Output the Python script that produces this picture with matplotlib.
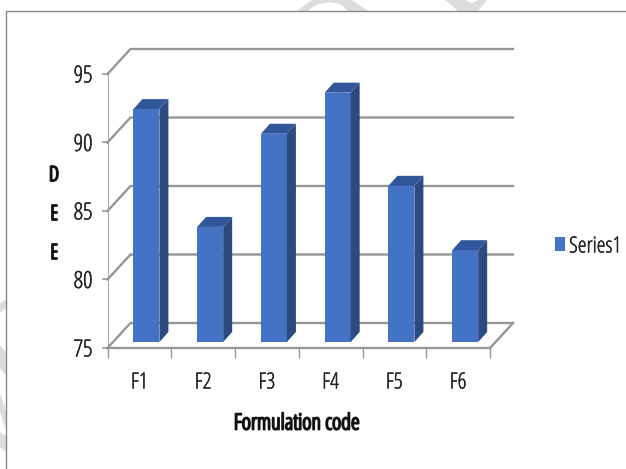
import matplotlib
matplotlib.use("Agg")
import matplotlib.pyplot as plt
import matplotlib.patheffects as pe
from matplotlib.patches import Polygon, Rectangle

categories = ["F1", "F2", "F3", "F4", "F5", "F6"]
values = [92.0, 83.4, 90.2, 93.2, 86.4, 81.7]
yticks = [75, 80, 85, 90, 95]

W, H = 626, 469
plt.rcParams['font.family'] = ['Open Sans', 'DejaVu Sans']

fig = plt.figure(figsize=(W/100, H/100), dpi=100)

# axes lined up so that one x unit = one category, y = the value scale
left, right, top, bottom = 107.5, 512, 48, 348
ax = fig.add_axes([left/W, 1-bottom/H, (right-left)/W, (bottom-top)/H])
px_x = 63.75
px_y = 13.7
ax.set_xlim(0, (right-left)/px_x)
ax.set_ylim(75, 75+(bottom-top)/px_y)
ax.axis("off")

dx = 23/px_x
dy = 25/px_y
n = len(categories)
grid_c = "#969696"

# the condensed face is light, a thin stroke brings it up to weight
regular = [pe.withStroke(linewidth=0.3, foreground="#222222")]
heavy = [pe.withStroke(linewidth=1.3, foreground="#111111")]

for t in yticks:
    ax.plot([0, dx, n+dx], [t, t+dy, t+dy], color=grid_c, lw=1.7, zorder=1, clip_on=False)
    ax.plot([-5/px_x, 0], [t, t], color=grid_c, lw=1.2, zorder=1, clip_on=False)
    ax.text(-15/px_x, t-2.5/px_y, str(t), ha="right", va="center", fontsize=17, stretch="condensed",
            color="#222222", path_effects=regular)
ax.plot([0, 0], [75, 95], color=grid_c, lw=1.2, zorder=1)
ax.plot([0, n, n+dx], [75, 75, 75+dy], color=grid_c, lw=1.7, zorder=1, clip_on=False)

bw = 26/px_x
off_x = 8/px_x
off_y = 6/px_y
side_x = 9/px_x
side_y = 10/px_y
for i in range(n):
    x0 = i+0.5-bw/2+off_x-0.015
    y0 = 75+off_y
    v = values[i]
    ax.add_patch(Rectangle((x0, y0), bw, v-75, fc="#4472c4", ec="none", zorder=3))
    ax.add_patch(Polygon([(x0+bw, y0), (x0+bw+side_x, y0+side_y),
                          (x0+bw+side_x, y0+v-75+side_y), (x0+bw, y0+v-75)],
                         fc="#2c4a80", ec="none", zorder=3))
    ax.add_patch(Polygon([(x0, y0+v-75), (x0+side_x, y0+v-75+side_y),
                          (x0+bw+side_x, y0+v-75+side_y), (x0+bw, y0+v-75)],
                         fc="#32569a", ec="none", zorder=3))

for i in range(n+1):
    ax.plot([i, i], [75, 75-9/px_y], color=grid_c, lw=1, clip_on=False)
for i in range(n):
    ax.text(i+0.5, 75-35/px_y, categories[i], ha="center", va="center", fontsize=16,
            stretch="condensed", color="#222222", path_effects=regular)

fig.text(297/W, 1-424/H, "Formulation code", ha="center", va="center", fontsize=16,
         stretch="condensed", color="#111111", path_effects=heavy)
fig.text(54/W, 1-176/H, "D", ha="center", va="center", fontsize=15, stretch="condensed", color="#111111", path_effects=heavy)
fig.text(54/W, 1-215/H, "E", ha="center", va="center", fontsize=15, stretch="condensed", color="#111111", path_effects=heavy)
fig.text(54/W, 1-254/H, "E", ha="center", va="center", fontsize=15, stretch="condensed", color="#111111", path_effects=heavy)

# legend
fig.patches.append(Rectangle((555/W, 1-251/H), 10/W, 14/H, transform=fig.transFigure, fc="#4472c4", ec="none"))
fig.text(569/W, 1-247/H, "Series1", ha="left", va="center", fontsize=16, stretch="condensed",
         color="#222222", path_effects=regular)

# grey scraps of the page watermark around the pasted picture
wm = [[(297, 11), (312, 0), (352, 0), (368, 11), (348, 11), (340, 4), (330, 2), (318, 4), (307, 11)],
      [(445, 0), (458, 11), (478, 11), (487, 0), (478, 0), (472, 3), (465, 0)],
      [(0, 303), (6, 300), (6, 308), (0, 313)],
      [(0, 345), (6, 352), (6, 375), (0, 368)],
      [(0, 392), (6, 412), (6, 430), (0, 412)],
      [(0, 432), (6, 436), (6, 452), (0, 447)]]
for w in wm:
    fig.patches.append(Polygon([(a/W, 1-b/H) for a, b in w], transform=fig.transFigure, fc="#dcdcdc", ec="none"))

# frame of the pasted picture
fig.add_artist(plt.Line2D([6/W, 6/W, 1], [0, 1-11.5/H, 1-11.5/H], color="#888888", lw=1))

fig.savefig("out.png", dpi=100)
